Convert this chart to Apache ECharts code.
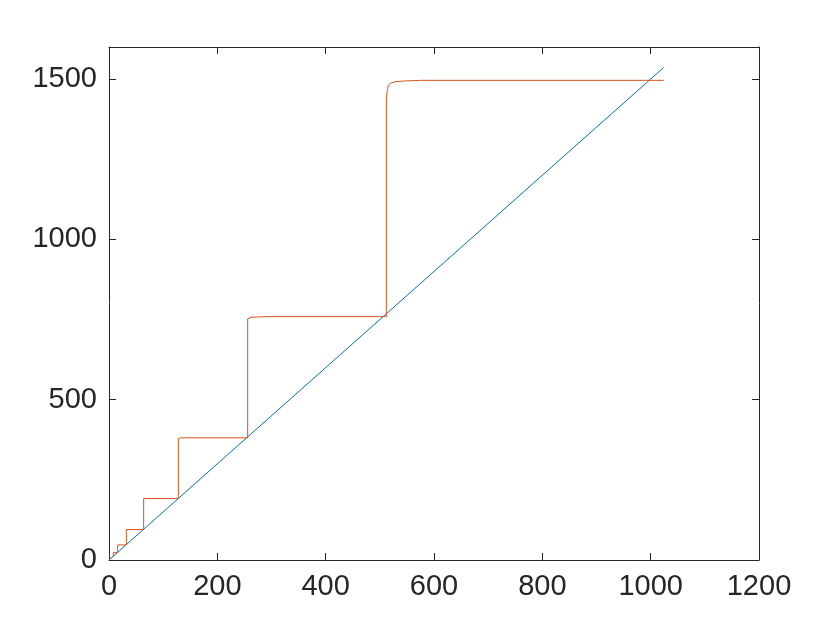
<!DOCTYPE html>
<html>
<head>
<meta charset="utf-8">
<script src="https://cdn.jsdelivr.net/npm/echarts@6/dist/echarts.min.js"></script>
<style>
  html, body { margin: 0; padding: 0; background: #fff; }
  #chart { width: 840px; height: 630px; }
</style>
</head>
<body>
<div id="chart"></div>
<script>
// blue: straight reference line
const blueX = [0, 1024]
const blueY = [0, 1536]

// orange: staircase
const orangeX = [0, 1, 1, 2, 2, 4, 4, 8, 8, 16, 16, 32, 32, 64, 64, 128, 128, 132, 256, 256, 262, 290, 512, 512, 514, 516, 520, 530, 545, 575, 1024]
const orangeY = [0, 0, 3, 3, 6, 6, 12, 12, 23, 23, 47, 47, 95, 95, 192, 192, 378, 381, 381, 752, 757, 759, 759, 1440, 1468, 1481, 1488, 1492, 1494, 1496, 1496]

const xTicks = [0, 200, 400, 600, 800, 1000, 1200]
const yTicks = [0, 500, 1000, 1500]

const pairs = (xs, ys) => xs.map((x, i) => [x, ys[i]])

const axisColor = '#262626'
const font = 'Liberation Sans, Arial, Helvetica, sans-serif'

const chart = echarts.init(document.getElementById('chart'))

const option = {
  animation: false,
  backgroundColor: '#fff',
  grid: { left: 109, right: 81, top: 47, bottom: 70, containLabel: false },
  xAxis: [
    {
      type: 'value',
      min: xTicks[0],
      max: xTicks[xTicks.length - 1],
      interval: 200,
      position: 'bottom',
      axisLine: { show: true, onZero: false, lineStyle: { color: axisColor, width: 1 } },
      axisTick: { show: true, inside: true, length: 7, lineStyle: { color: axisColor } },
      axisLabel: { color: axisColor, fontSize: 29, fontFamily: font, margin: 12, formatter: v => String(v) },
      splitLine: { show: false }
    },
    {
      type: 'value',
      min: xTicks[0],
      max: xTicks[xTicks.length - 1],
      interval: 200,
      position: 'top',
      axisLine: { show: true, onZero: false, lineStyle: { color: axisColor, width: 1 } },
      axisTick: { show: true, inside: true, length: 7, lineStyle: { color: axisColor } },
      axisLabel: { show: false },
      splitLine: { show: false }
    }
  ],
  yAxis: [
    {
      type: 'value',
      min: 0,
      max: 1600,
      interval: 500,
      position: 'left',
      axisLine: { show: true, onZero: false, lineStyle: { color: axisColor, width: 1 } },
      axisTick: { show: true, inside: true, length: 7, lineStyle: { color: axisColor } },
      axisLabel: {
        color: axisColor, fontSize: 29, fontFamily: font, margin: 12,
        showMaxLabel: false,
        formatter: v => (yTicks.includes(v) ? String(v) : '')
      },
      splitLine: { show: false }
    },
    {
      type: 'value',
      min: 0,
      max: 1600,
      interval: 500,
      position: 'right',
      axisLine: { show: true, onZero: false, lineStyle: { color: axisColor, width: 1 } },
      axisTick: { show: true, inside: true, length: 7, lineStyle: { color: axisColor } },
      axisLabel: { show: false },
      splitLine: { show: false }
    }
  ],
  series: [
    {
      type: 'line',
      data: pairs(blueX, blueY),
      showSymbol: false,
      lineStyle: { color: '#0072BD', width: 1 },
      xAxisIndex: 0,
      yAxisIndex: 0
    },
    {
      type: 'line',
      data: pairs(orangeX, orangeY),
      showSymbol: false,
      lineStyle: { color: '#D95319', width: 1 },
      xAxisIndex: 0,
      yAxisIndex: 0
    }
  ]
}

chart.setOption(option)
</script>
</body>
</html>
